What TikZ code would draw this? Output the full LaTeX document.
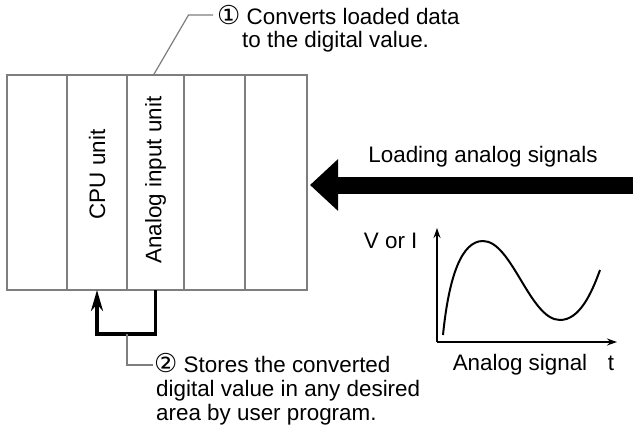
\documentclass[tikz,border=0pt]{standalone}
\usepackage{fontspec}
\setmainfont{Liberation Sans}
\newfontfamily\circfont{DejaVu Sans}
\usetikzlibrary{positioning,arrows.meta}
\definecolor{rackgray}{HTML}{7E7E7E}
\newcommand{\cnum}[1]{{\circfont\fontsize{26pt}{24pt}\selectfont #1}}

\begin{document}
\begin{tikzpicture}[
  x=1pt, y=-1pt,
  font=\fontsize{22.4pt}{24pt}\selectfont,
  slot/.style={draw=rackgray, line width=1.5pt, minimum height=215pt, minimum width=#1, inner sep=0pt, outer sep=0pt},
  unitlbl/.style={rotate=90, inner sep=0pt},
  note/.style={align=left, inner sep=0pt, anchor=base west},
  leader/.style={draw=rackgray, line width=1.2pt},
  storearr/.style={line width=3.5pt, -{Stealth[length=21pt,width=12pt]}},
  bigarr/.style={line width=17pt, -{Triangle[length=28pt,width=50pt]}},
  axis/.style={line width=1.5pt, -{Stealth[length=10pt,width=7pt]}}
]
\useasboundingbox (0,0) rectangle (633,431);

% rack of units
\node[slot=60pt] (s1) at (37,182.5) {};
\node[slot=60pt, right=0pt of s1] (s2) {};
\node[slot=57pt, right=0pt of s2] (s3) {};
\node[slot=61pt, right=0pt of s3] (s4) {};
\node[slot=62pt, right=0pt of s4] (s5) {};
\node[unitlbl] (cpu) at ([yshift=8pt]s2.center) {CPU unit};
\node[unitlbl] (ain) at ([yshift=2.5pt]s3.center) {Analog input unit};

% notes (base = last line)
\node[note] (note1) at (217,48) {\cnum{①} Converts loaded data\\\hspace*{25pt}to the digital value.};
\node[note] (note2) at (154,420) {\cnum{②} Stores the converted\\\hspace*{2pt}digital value in any desired\\\hspace*{2pt}area by user program.};
\draw[leader] ([xshift=-2pt]s3.north) -- ++(35,-60) -- ([shift={(-4pt,33pt)}]note1.base west);

% store loop
\draw[storearr] (s3.south) -- ++(0,44) coordinate (turn) -| (s2.south);
\draw[leader] (s3.south west |- turn) |- ([shift={(-1pt,55pt)}]note2.base west);

% incoming signal
\node[anchor=base] (load) at (483,162) {Loading analog signals};
\coordinate (src) at (633,185);
\draw[bigarr] (src) -- ([xshift=3pt]s5.east |- src);

% analog signal graph
\coordinate (o) at (437,342);
\coordinate (yend) at (437,228);
\coordinate (xend) at (617,342);
\draw[axis] (o) -- (yend);
\draw[axis] (o) -- (xend);
\draw[line width=2pt] (443,335) .. controls (449,275) and (462,241) .. (483,241)
  .. controls (512,241) and (530,320) .. (560,320)
  .. controls (580,320) and (592,292) .. (600,270);
\node[anchor=base east] (vi) at (421,248) {V or I};
\node[anchor=base] (sig) at (520,370) {Analog signal};
\node[anchor=base] (tlbl) at (611,370) {t};
\end{tikzpicture}
\end{document}
